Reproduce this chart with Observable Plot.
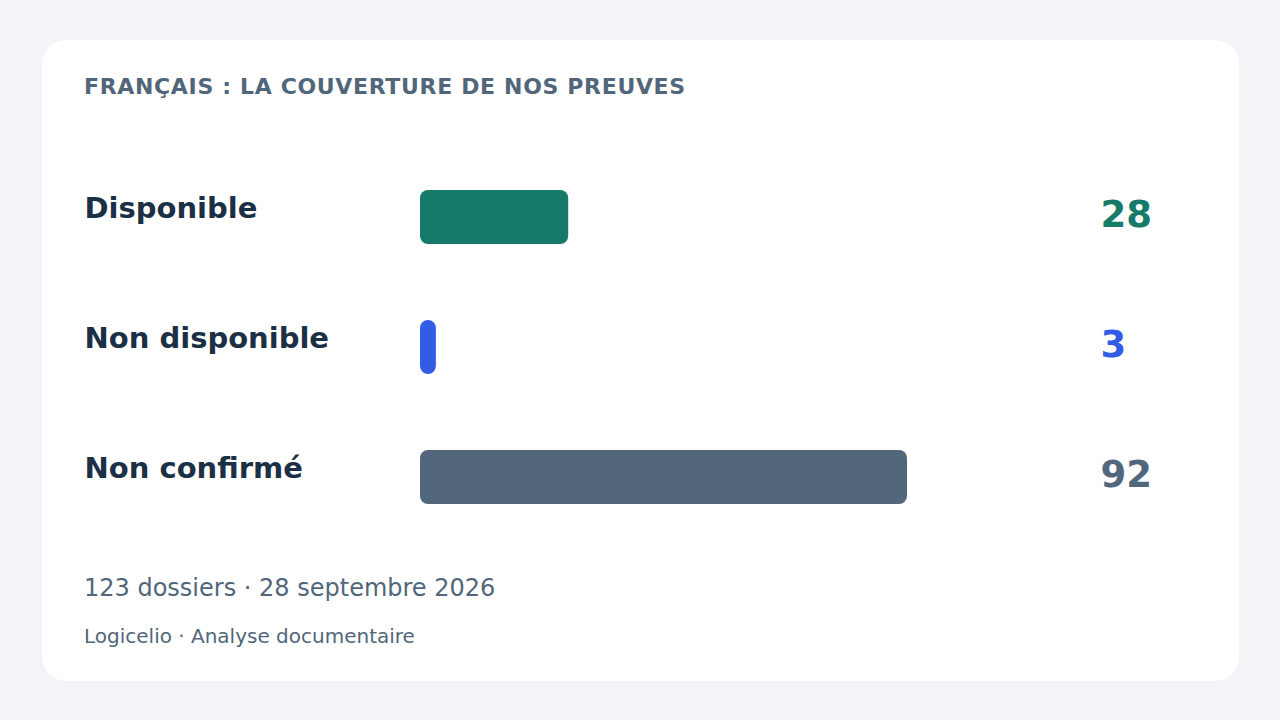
<!DOCTYPE html>
<html><head><meta charset="utf-8">
<script src="https://cdn.jsdelivr.net/npm/d3@7"></script>
<script src="https://cdn.jsdelivr.net/npm/@observablehq/plot@0.6"></script>
<style>
html,body{margin:0;padding:0;background:#f3f4f8;width:1280px;height:720px;overflow:hidden;font-family:"DejaVu Sans",sans-serif;}
.card{position:absolute;left:42px;top:40px;width:1197px;height:641px;background:#fff;border-radius:24px;}
.title{position:absolute;left:42px;top:36px;font-size:22px;line-height:22px;font-weight:bold;color:#52667a;letter-spacing:0.66px;white-space:nowrap;}
#chart{position:absolute;left:0;top:112px;width:1197px;height:390px;}
.foot1{position:absolute;left:42px;top:536px;font-size:24px;line-height:24px;color:#52667a;white-space:nowrap;}
.foot2{position:absolute;left:42px;top:586px;font-size:20px;line-height:20px;color:#52667a;white-space:nowrap;}
</style>
</head><body>
<div class="card">
  <div class="title" id="title"></div>
  <div id="chart"></div>
  <div class="foot1" id="foot1"></div>
  <div class="foot2" id="foot2"></div>
</div>
<script>
const titleText = "FRANÇAIS : LA COUVERTURE DE NOS PREUVES";
const categories = ["Disponible", "Non disponible", "Non confirmé"];
const values = [28, 3, 92];
const colors = ["#157a68", "#335ce6", "#52677c"];
const footLine1 = "123 dossiers · 28 septembre 2026";
const footLine2 = "Logicelio · Analyse documentaire";

document.getElementById("title").textContent = titleText;
document.getElementById("foot1").textContent = footLine1;
document.getElementById("foot2").textContent = footLine2;

const data = categories.map((c, i) => ({category: c, value: values[i]}));

const chart = Plot.plot({
  width: 1197,
  height: 390,
  marginLeft: 378,
  marginRight: 332,
  marginTop: 0,
  marginBottom: 0,
  x: {domain: [0, d3.max(values)], axis: null},
  y: {domain: categories, axis: null, paddingInner: 0.585, paddingOuter: 0.2925},
  color: {domain: categories, range: colors},
  style: {background: "transparent", fontFamily: "DejaVu Sans, sans-serif", overflow: "visible"},
  marks: [
    Plot.barX(data, {x: "value", y: "category", fill: "category", rx: 8}),
    Plot.text(data, {y: "category", text: "category", frameAnchor: "left", dx: -336, textAnchor: "start", lineAnchor: "bottom", fontSize: 29, fontWeight: "bold", fill: "#1b2f45"}),
    Plot.text(data, {y: "category", text: d => String(d.value), frameAnchor: "right", dx: 193, dy: 9, textAnchor: "start", lineAnchor: "bottom", fontSize: 37, fontWeight: "bold", fill: "category"})
  ]
});
document.getElementById("chart").appendChild(chart);
</script>
</body></html>
